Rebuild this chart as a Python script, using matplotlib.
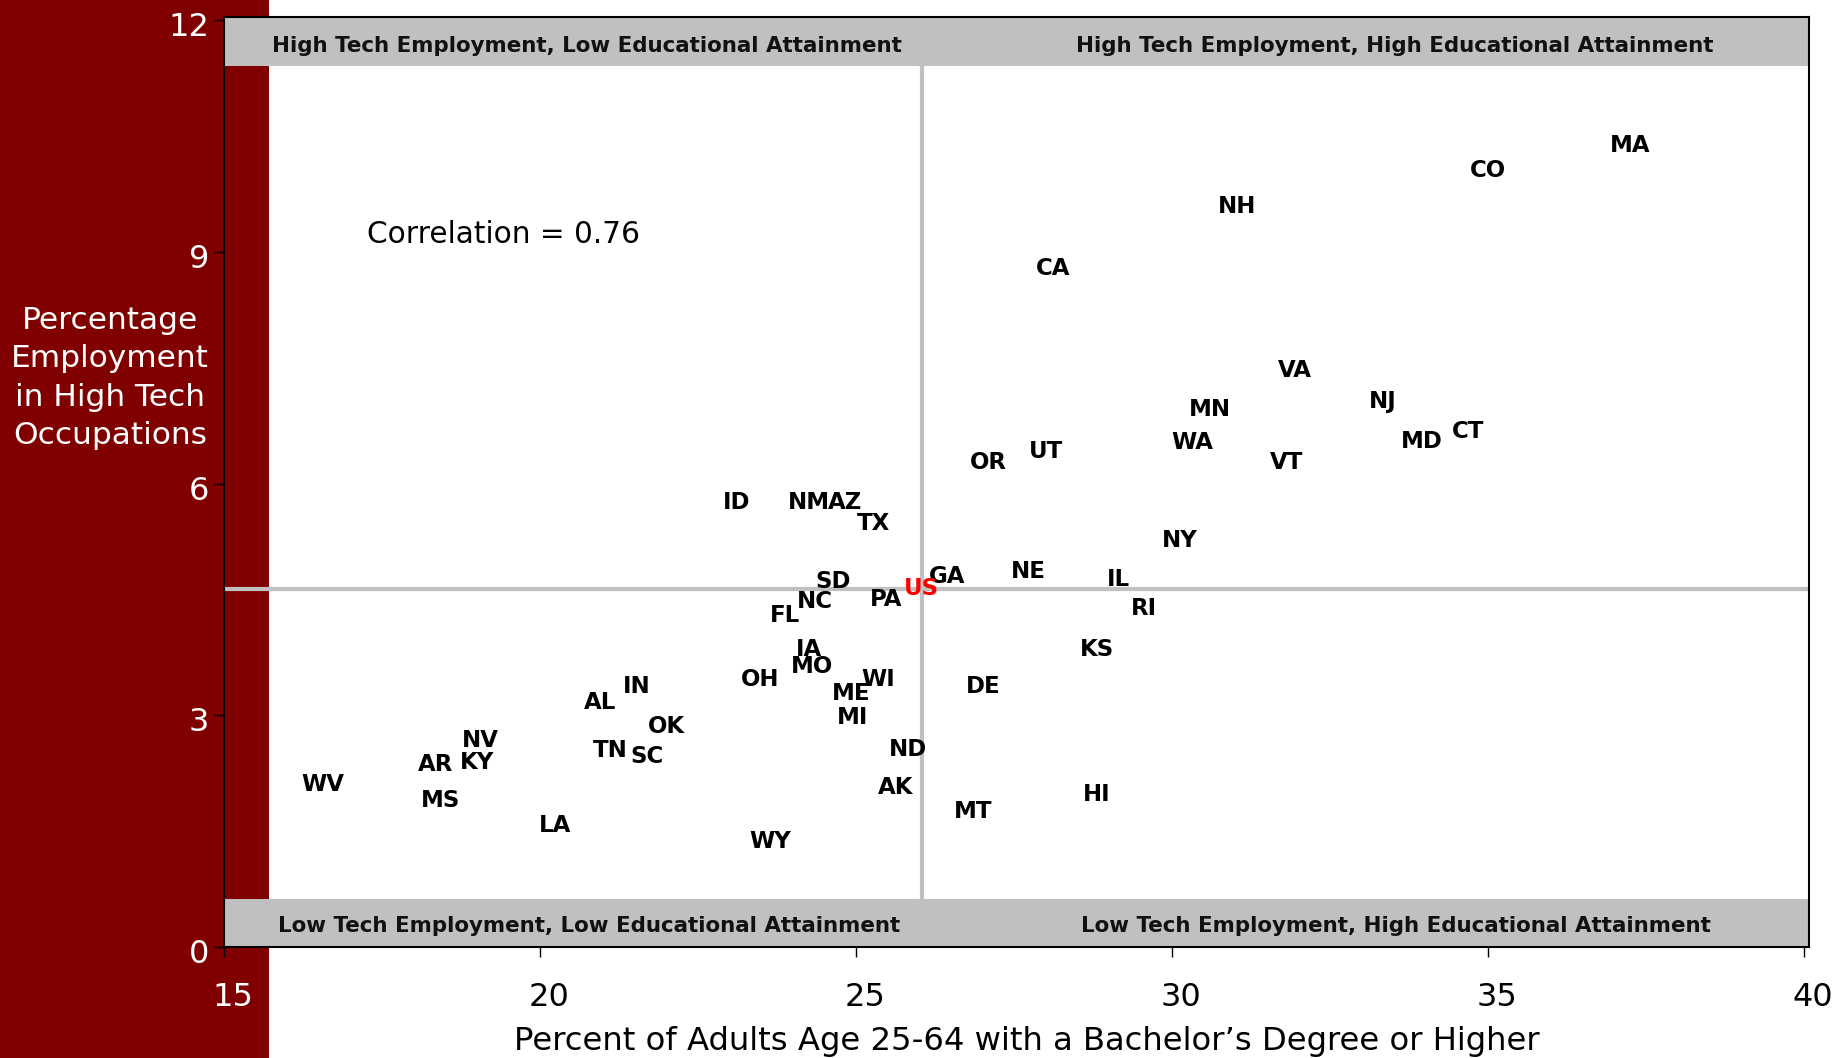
import matplotlib

matplotlib.use("Agg")
import matplotlib.pyplot as plt
from matplotlib.patches import Rectangle
from matplotlib.transforms import ScaledTranslation

STATES = [
    "MA", "CO", "NH", "CA", "VA", "NJ", "MN", "CT", "MD", "WA",
    "UT", "OR", "VT", "ID", "NM", "AZ", "TX", "NY", "NE", "GA",
    "IL", "SD", "PA", "NC", "RI", "FL", "KS", "IA", "MO", "OH",
    "WI", "IN", "DE", "ME", "AL", "MI", "OK", "NV", "ND", "TN",
    "SC", "AR", "KY", "WV", "AK", "HI", "MS", "MT", "LA", "WY",
]
BACHELOR_PCT = [
    37.25, 35.00, 31.03, 28.12, 31.95, 33.33, 30.60, 34.69, 33.95, 30.32,
    28.01, 27.10, 31.82, 23.11, 24.25, 24.83, 25.27, 30.12, 27.73, 26.44,
    29.15, 24.64, 25.47, 24.35, 29.55, 23.87, 28.82, 24.25, 24.31, 23.48,
    25.35, 21.53, 27.01, 24.93, 20.95, 24.95, 22.00, 19.05, 25.83, 21.12,
    21.69, 18.34, 19.00, 16.57, 25.62, 28.81, 18.43, 26.86, 20.24, 23.64,
]
HIGH_TECH_PCT = [
    10.38, 10.06, 9.59, 8.79, 7.47, 7.07, 6.96, 6.68, 6.55, 6.54,
    6.42, 6.28, 6.28, 5.76, 5.76, 5.76, 5.48, 5.26, 4.87, 4.80,
    4.76, 4.74, 4.50, 4.48, 4.38, 4.29, 3.86, 3.86, 3.64, 3.47,
    3.46, 3.37, 3.37, 3.28, 3.17, 2.98, 2.86, 2.67, 2.56, 2.55,
    2.47, 2.37, 2.39, 2.10, 2.07, 1.98, 1.90, 1.76, 1.57, 1.37,
]
US_BACHELOR = 26.04
US_HIGH_TECH = 4.64
CORRELATION = 0.76

X_TICKS = [15, 20, 25, 30, 35, 40]
Y_TICKS = [0, 3, 6, 9, 12]

QUADRANTS = [
    ("High Tech Employment, Low Educational Attainment", 20.75, 11.67),
    ("High Tech Employment, High Educational Attainment", 33.53, 11.67),
    ("Low Tech Employment, Low Educational Attainment", 20.77, 0.27),
    ("Low Tech Employment, High Educational Attainment", 33.55, 0.27),
]

DARK_RED = "#800000"
GREY = "#c0c0c0"


def main() -> None:
    plt.rcParams["font.family"] = ["DejaVu Sans"]
    fig = plt.figure(figsize=(18.39, 10.58), dpi=100)
    fig.patch.set_facecolor("white")
    fig.add_artist(Rectangle((0, 0), 269 / 1839, 1, transform=fig.transFigure,
                             facecolor=DARK_RED, edgecolor="none", zorder=-1))

    ax = fig.add_axes([224 / 1839, 1 - 947 / 1058, 1585 / 1839, 930 / 1058])
    ax.set_facecolor("none")
    ax.set_xlim(15, 40.08)
    ax.set_ylim(0, 12.04)

    # quadrant bands and reference lines through the US value
    ax.axhspan(11.41, 12.04, color=GREY, lw=0, zorder=2)
    ax.axhspan(0, 0.62, color=GREY, lw=0, zorder=2)
    ax.axvline(US_BACHELOR, color=GREY, lw=3, zorder=1)
    ax.axhline(US_HIGH_TECH, color=GREY, lw=3, zorder=1)
    for label, x, y in QUADRANTS:
        ax.text(x, y, label, ha="center", va="center", fontsize=15.4,
                fontweight="bold", color="#111111", zorder=3)

    # labels sit with their capitals centred on the point
    lift = ax.transData + ScaledTranslation(0, 0.023, fig.dpi_scale_trans)
    for state, x, y in zip(STATES, BACHELOR_PCT, HIGH_TECH_PCT):
        ax.text(x, y, state, ha="center", va="center_baseline", fontsize=16.5,
                fontweight="bold", color="black", zorder=4, transform=lift)
    ax.text(US_BACHELOR, US_HIGH_TECH, "US", ha="center", va="center_baseline",
            fontsize=16.5, fontweight="bold", color="red", zorder=4, transform=lift)

    ax.text(17.26, 9.26, f"Correlation = {CORRELATION:.2f}", ha="left",
            va="center_baseline", fontsize=21.3, color="black")

    for side in ax.spines.values():
        side.set_color("black")
        side.set_linewidth(1.5)

    ax.set_xticks(X_TICKS)
    ax.set_yticks(Y_TICKS)
    ax.tick_params(axis="both", direction="out", length=7.2, width=1, labelsize=23)
    ax.tick_params(axis="x", pad=18, labelcolor="black")
    ax.tick_params(axis="y", pad=3.5, labelcolor="white")
    ax.get_xticklabels()[0].set_color("white")

    shift_x = ScaledTranslation(0.09, 0, fig.dpi_scale_trans)
    for lab in ax.get_xticklabels():
        lab.set_transform(lab.get_transform() + shift_x)
    shift_y = ScaledTranslation(0, -0.04, fig.dpi_scale_trans)
    for lab in ax.get_yticklabels():
        lab.set_transform(lab.get_transform() + shift_y)

    fig.text(1027 / 1839, 1 - 1050 / 1058,
             "Percent of Adults Age 25-64 with a Bachelor\u2019s Degree or Higher",
             ha="center", va="baseline", fontsize=23.2, color="black")
    fig.text(110 / 1839, 1 - 378 / 1058,
             "Percentage\nEmployment\nin High Tech\nOccupations",
             ha="center", va="center", multialignment="center",
             fontsize=22.5, color="white", linespacing=1.4)

    fig.savefig("out.png", dpi=100, facecolor=fig.get_facecolor())
    plt.close(fig)


if __name__ == "__main__":
    main()
